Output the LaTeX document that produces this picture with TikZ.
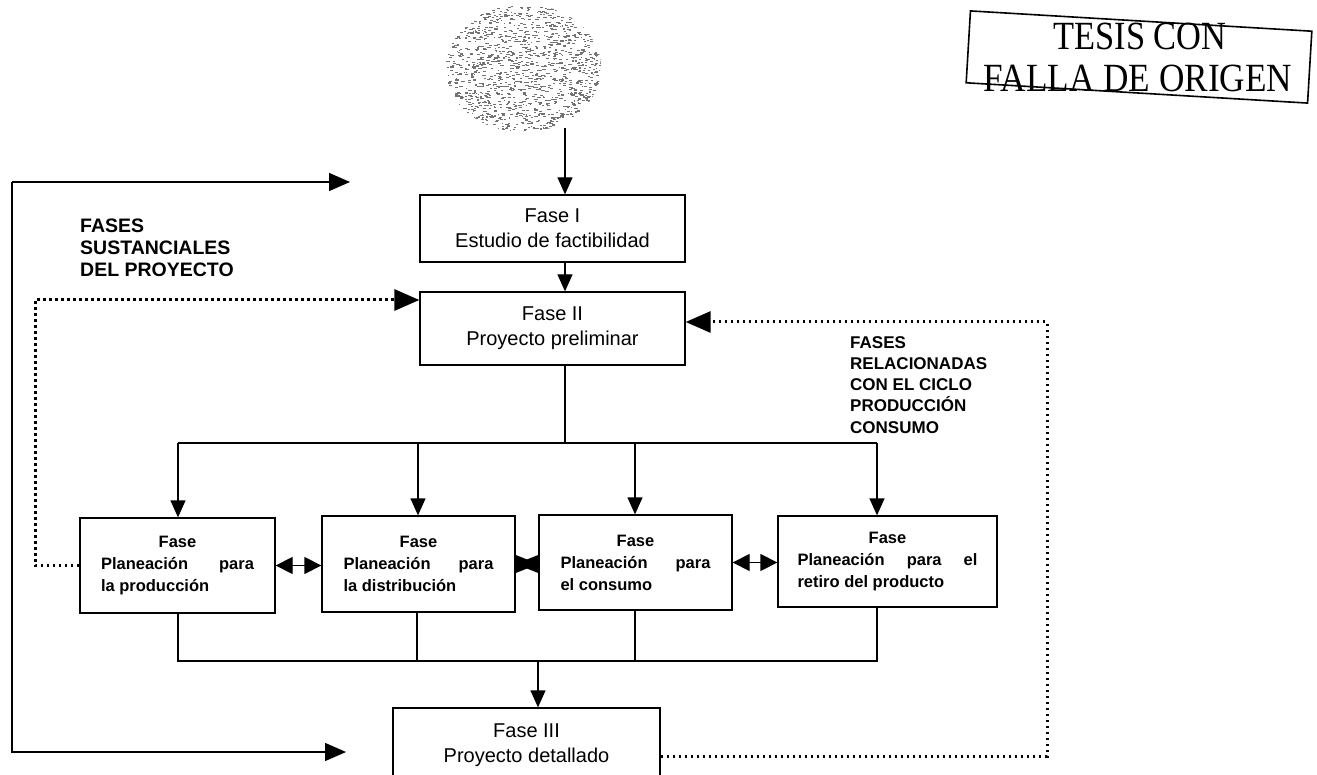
\documentclass[tikz,border=0pt]{standalone}
\usepackage{fontspec}
\usepackage{graphicx}
\setmainfont{Liberation Sans}
\newfontfamily\stampfont{Liberation Serif}
\usetikzlibrary{arrows.meta,shapes.geometric,calc}
\tikzset{
  fbox/.style={draw, line width=1.3pt, inner sep=0pt, align=center,
    font=\fontsize{20}{25}\selectfont},
  pbox/.style={draw, line width=1.3pt, inner sep=0pt, align=left,
    font=\bfseries\fontsize{16.5}{22}\selectfont},
  lab/.style={inner sep=0pt, align=left, anchor=north west},
  conn/.style={line width=1.3pt},
  arr/.style={line width=1.3pt, -{Triangle[length=17pt,width=15pt]}},
  bigarr/.style={line width=1.5pt, -{Triangle[length=21pt,width=18pt]}},
  darr/.style={line width=1.3pt, {Triangle[length=17pt,width=17pt]}-{Triangle[length=17pt,width=17pt]}},
  sdarr/.style={line width=1.3pt, {Triangle[length=23pt,width=18pt]}-{Triangle[length=23pt,width=18pt]}},
  dotline/.style={line width=3pt, dash pattern=on 2.8pt off 3.2pt},
  dotarr/.style={dotline, -{Triangle[length=25pt,width=21pt]}},
  stamptext/.style={inner sep=0pt, font=\stampfont\fontsize{40}{40}\selectfont},
}
\begin{document}
\begin{tikzpicture}[x=1pt,y=-1pt]
\clip (0,0) rectangle (1317,775);
\fill[white] (0,0) rectangle (1317,775);

% cloud
\node[ellipse, minimum width=156pt, minimum height=128pt, inner sep=0pt] (cloud) at (523,68) {};
\begin{scope}
\clip (523,68) ellipse [x radius=78pt, y radius=64pt];
\pgfmathsetseed{42}
\foreach \i in {1,...,1250}{
  \pgfmathsetmacro\ang{rnd*360}
  \pgfmathsetmacro\rad{sqrt(rnd)}
  \pgfmathsetmacro\len{1.2+2.5*rnd}
  \fill[black!55] ({523+78*\rad*cos(\ang)},{68+64*\rad*sin(\ang)}) rectangle ++(\len,1.1);
}
\end{scope}

% stamp
\node[draw, line width=1.6pt, rotate=-3.4, minimum width=342pt, minimum height=72pt, inner sep=0pt] (stamp) at (1139,57) {};
\node[stamptext] (st1) at (1140,36) {\scalebox{0.86}[1]{TESIS CON}};
\node[stamptext] (st2) at (1138,78) {\scalebox{0.88}[1]{FALLA DE ORIGEN}};

% main boxes
\node[fbox, minimum width=265pt, minimum height=67pt] (f1) at (552.5,228.5) {Fase I\\Estudio de factibilidad};
\node[fbox, minimum width=265pt, minimum height=73pt] (f2) at (552.5,328.5) {Fase II\\Proyecto preliminar};
\node[fbox, minimum width=267pt, minimum height=74pt] (f3) at (526.5,745) {Fase III\\Proyecto detallado};

% planning boxes
\node[pbox, minimum width=195pt, minimum height=95pt] (p1) at (177.5,565.5)
  {\makebox[153pt]{Fase}\\\makebox[153pt][s]{Planeación para}\\la producción};
\node[pbox, minimum width=193pt, minimum height=96pt] (p2) at (418.5,564)
  {\makebox[150pt]{Fase}\\\makebox[150pt][s]{Planeación para}\\la distribución};
\node[pbox, minimum width=193pt, minimum height=95pt] (p3) at (635.5,562.5)
  {\makebox[150pt]{Fase}\\\makebox[150pt][s]{Planeación para}\\el consumo};
\node[pbox, minimum width=219pt, minimum height=91pt] (p4) at (887.5,561.5)
  {\makebox[180pt]{Fase}\\\makebox[180pt][s]{Planeación para el}\\retiro del producto};

% labels
\node[lab, font=\bfseries\fontsize{19.5}{22}\selectfont] (lab1) at (80,219)
  {FASES\\SUSTANCIALES\\DEL PROYECTO};
\node[lab, font=\bfseries\fontsize{17}{21.3}\selectfont] (lab2) at (850,336)
  {FASES\\RELACIONADAS\\CON EL CICLO\\PRODUCCIÓN\\CONSUMO};

% main axis
\coordinate (c1) at (565,128);
\draw[arr] (c1) -- (c1 |- f1.north);
\draw[arr] (c1 |- f1.south) -- (c1 |- f2.north);
\coordinate (bm) at (565,443);
\draw[conn] (c1 |- f2.south) -- (bm);
\coordinate (b1) at (178,443);
\coordinate (b2) at (418,443);
\coordinate (b3) at (635,443);
\coordinate (b4) at (877,443);
\draw[conn] (b1) -- (b4);
\draw[arr] (b1) -- (b1 |- p1.north);
\draw[arr] (b2) -- (b2 |- p2.north);
\draw[arr] (b3) -- (b3 |- p3.north);
\draw[arr] (b4) -- (b4 |- p4.north);

% between planning boxes
\draw[darr] (p1.east) -- (p1.east -| p2.west);
\draw[sdarr] (p2.east) -- (p2.east -| p3.west);
\draw[darr] (p3.east) -- (p3.east -| p4.west);

% bottom collection
\coordinate (d1) at (178,661);
\coordinate (d2) at (417,661);
\coordinate (d3) at (635,661);
\coordinate (d4) at (877,661);
\coordinate (dm) at (538,661);
\draw[conn] (d1 |- p1.south) -- (d1) -- (d4) -- (d4 |- p4.south);
\draw[conn] (d2 |- p2.south) -- (d2);
\draw[conn] (d3 |- p3.south) -- (d3);
\draw[arr] (dm) -- (dm |- f3.north);

% left solid feedback
\coordinate (lt) at (12,182);
\coordinate (lb) at (12,752);
\coordinate (ta) at (350,182);
\coordinate (ba) at (346,752);
\draw[bigarr] (lt) -- (ta);
\draw[bigarr] (lt) -- (lb) -- (ba);

% left dotted
\coordinate (lc) at (35,300);
\draw[dotarr] (p1.west) -| (lc) -- (lc -| f2.west);

% right dotted
\coordinate (rc) at (1047,322);
\draw[dotarr] ([yshift=-11pt]f3.east) -| (rc) -- (rc -| f2.east);
\end{tikzpicture}
\end{document}
